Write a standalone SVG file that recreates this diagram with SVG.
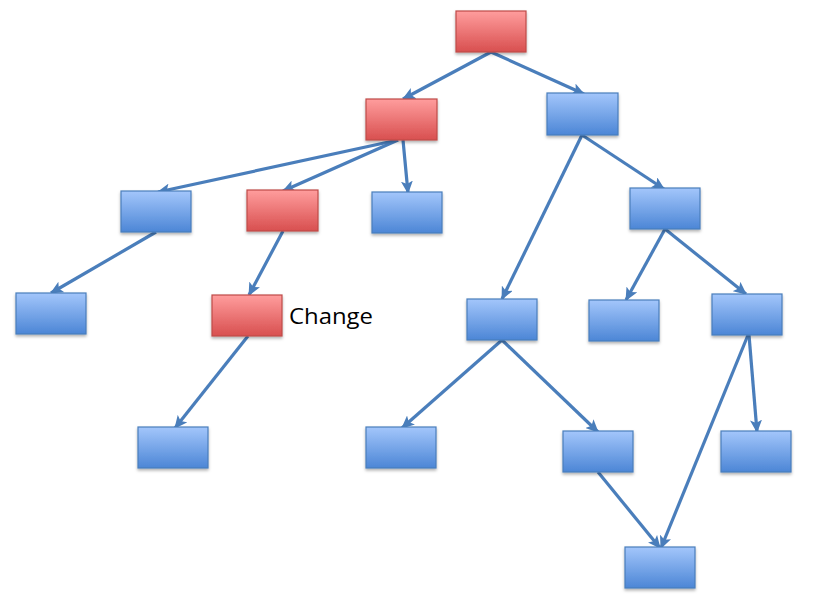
<svg xmlns="http://www.w3.org/2000/svg" width="813" height="616" viewBox="0 0 813 616">
<defs>
<linearGradient id="gb" x1="0" y1="0" x2="0" y2="1"><stop offset="0" stop-color="#a3c6fb"/><stop offset="1" stop-color="#4c86d6"/></linearGradient>
<linearGradient id="gr" x1="0" y1="0" x2="0" y2="1"><stop offset="0" stop-color="#ff9d9d"/><stop offset="1" stop-color="#d84f4f"/></linearGradient>
<filter id="sh" x="-10%" y="-10%" width="130%" height="140%"><feDropShadow dx="0" dy="2" stdDeviation="1.5" flood-color="#000" flood-opacity="0.3"/></filter>
<marker id="ah" markerUnits="userSpaceOnUse" markerWidth="14" markerHeight="12" viewBox="0 0 14 12" refX="12" refY="6" orient="auto"><path d="M0,0 L13,6 L0,12 L3,6 Z" fill="#4a7ebb"/></marker>
</defs>
<style>
.b{fill:url(#gb);stroke:#4a7ebb;stroke-width:1.2;filter:url(#sh)}
.r{fill:url(#gr);stroke:#be4b48;stroke-width:1.2;filter:url(#sh)}
.e{stroke:#4a7ebb;stroke-width:3.2;fill:none;marker-end:url(#ah)}
text{font-family:"Open Sans","Liberation Sans",sans-serif;font-size:22px;fill:#000}
</style>
<g id="connectors">
<line class="e" x1="491" y1="52" x2="403" y2="99"/>
<line class="e" x1="491" y1="52" x2="584" y2="94"/>
<line class="e" x1="398" y1="140" x2="158" y2="192"/>
<line class="e" x1="398" y1="140" x2="283" y2="191"/>
<line class="e" x1="403" y1="140" x2="408" y2="193"/>
<line class="e" x1="582" y1="135" x2="502" y2="299"/>
<line class="e" x1="582" y1="135" x2="664" y2="189"/>
<line class="e" x1="156" y1="232" x2="51" y2="293"/>
<line class="e" x1="283" y1="231" x2="249" y2="295"/>
<line class="e" x1="665" y1="229" x2="626" y2="300"/>
<line class="e" x1="665" y1="229" x2="746" y2="294"/>
<line class="e" x1="248" y1="336" x2="175" y2="428"/>
<line class="e" x1="502" y1="340" x2="402" y2="428"/>
<line class="e" x1="502" y1="340" x2="598" y2="432"/>
<line class="e" x1="749" y1="335" x2="757" y2="432"/>
<line class="e" x1="748" y1="335" x2="661" y2="548"/>
<line class="e" x1="598" y1="472" x2="660" y2="548"/>
</g>
<g id="n1"><rect class="r" x="456" y="11" width="70" height="41"/></g>
<g id="n2"><rect class="r" x="366" y="99" width="71" height="41"/></g>
<g id="n3"><rect class="b" x="547" y="93" width="71" height="42"/></g>
<g id="n4"><rect class="b" x="121" y="191" width="70" height="41"/></g>
<g id="n5"><rect class="r" x="247" y="190" width="71" height="41"/></g>
<g id="n6"><rect class="b" x="372" y="192" width="70" height="41"/></g>
<g id="n7"><rect class="b" x="630" y="188" width="70" height="41"/></g>
<g id="n8"><rect class="b" x="16" y="293" width="70" height="41"/></g>
<g id="n9"><rect class="r" x="212" y="295" width="70" height="41"/><text x="289" y="324" textLength="84" lengthAdjust="spacingAndGlyphs">Change</text></g>
<g id="n10"><rect class="b" x="467" y="299" width="70" height="41"/></g>
<g id="n11"><rect class="b" x="589" y="300" width="70" height="41"/></g>
<g id="n12"><rect class="b" x="712" y="294" width="70" height="41"/></g>
<g id="n13"><rect class="b" x="138" y="427" width="70" height="41"/></g>
<g id="n14"><rect class="b" x="366" y="427" width="70" height="41"/></g>
<g id="n15"><rect class="b" x="563" y="431" width="70" height="41"/></g>
<g id="n16"><rect class="b" x="721" y="431" width="70" height="41"/></g>
<g id="n17"><rect class="b" x="625" y="547" width="70" height="41"/></g>
</svg>
